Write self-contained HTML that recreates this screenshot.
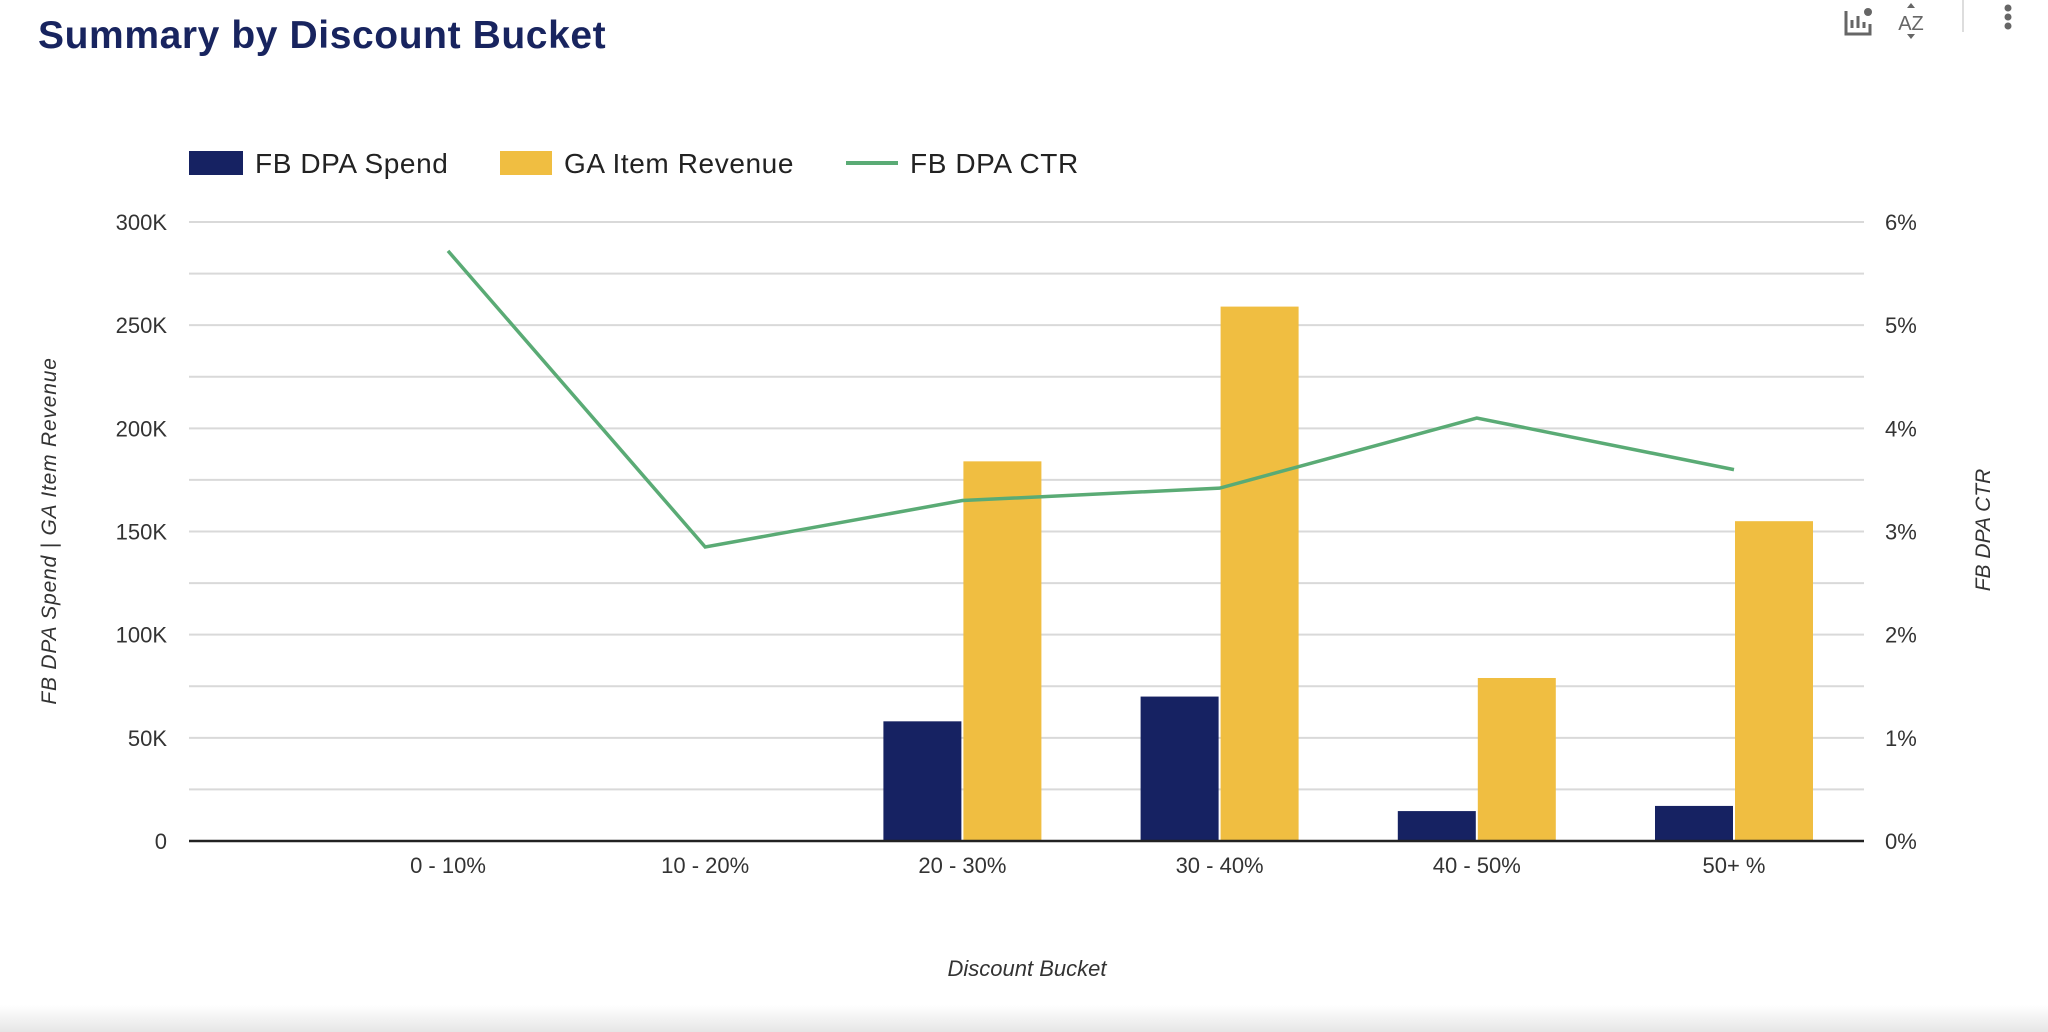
<!DOCTYPE html>
<html><head><meta charset="utf-8"><style>
body{margin:0;width:2048px;height:1032px;background:#fff;overflow:hidden;font-family:"Liberation Sans",sans-serif;position:relative}
.title{position:absolute;left:38px;top:14px;font-size:39px;font-weight:bold;color:#18245f;letter-spacing:0.6px}
.shadow{position:absolute;left:0;top:1005px;width:2048px;height:27px;background:linear-gradient(#fff,#e6e6e6)}
</style></head><body>
<div class="title">Summary by Discount Bucket</div>
<div class="shadow"></div>
<svg width="2048" height="1032" style="position:absolute;left:0;top:0" id="chart">
 <g fill="#666" stroke="#666">
  <g><path d="M1846 11 v23 h24 v-10 M1852 28 v-8 M1858 28 v-12 M1864 28 v-6" fill="none" stroke-width="3"/><circle cx="1868" cy="12" r="4" stroke="none"/></g>
  <text x="1911" y="30" font-size="20" stroke="none" text-anchor="middle">AZ</text>
  <path d="M1907 8 l4 -5 l4 5z M1907 34 l4 5 l4 -5z" stroke="none"/>
  <line x1="1963" y1="0" x2="1963" y2="32" stroke="#ddd" stroke-width="2"/>
  <g stroke="none"><circle cx="2008" cy="8" r="3.5"/><circle cx="2008" cy="17" r="3.5"/><circle cx="2008" cy="26" r="3.5"/></g>
 </g>
 <g font-size="28" fill="#222" letter-spacing="0.6">
  <g><rect x="189" y="151" width="54" height="24" fill="#162262"/><text x="255" y="173">FB DPA Spend</text></g>
  <g><rect x="500" y="151" width="52" height="24" fill="#f0be41"/><text x="564" y="173">GA Item Revenue</text></g>
  <g><line x1="846" y1="163" x2="898" y2="163" stroke="#5aab75" stroke-width="4"/><text x="910" y="173">FB DPA CTR</text></g>
 </g>
 <g id="plot"></g>
 <text x="56" y="531" font-size="21" font-style="italic" fill="#333" text-anchor="middle" letter-spacing="0.8" transform="rotate(-90 56 531)">FB DPA Spend | GA Item Revenue</text>
 <text x="1990" y="530" font-size="21" font-style="italic" fill="#333" text-anchor="middle" transform="rotate(-90 1990 530)">FB DPA CTR</text>
 <text x="1027" y="976" font-size="22" font-style="italic" fill="#333" text-anchor="middle">Discount Bucket</text>
</svg>
<script>
const categories=["0 - 10%","10 - 20%","20 - 30%","30 - 40%","40 - 50%","50+ %"];
const spend=[0,0,58000,70000,14500,17000];
const revenue=[0,0,184000,259000,79000,155000];
const ctr=[5.72,2.85,3.3,3.42,4.1,3.6];
const leftTicks=[0,50000,100000,150000,200000,250000,300000];
const leftTickLabels=["0","50K","100K","150K","200K","250K","300K"];
const rightTicks=[0,1,2,3,4,5,6];
const rightTickLabels=["0%","1%","2%","3%","4%","5%","6%"];
const L=189,R=1864,T=222,B=841;
const yL=v=>B-(v/300000)*(B-T);
const yR=v=>B-(v/6)*(B-T);
const xC=i=>448+i*257.2;
const NS="http://www.w3.org/2000/svg";
const g=document.getElementById('plot');
function mk(t,a){const e=document.createElementNS(NS,t);for(const k in a)e.setAttribute(k,a[k]);g.appendChild(e);return e;}
for(let v=0;v<=300000;v+=25000){if(v===0)continue;const e=mk('line',{x1:L,x2:R,y1:yL(v),y2:yL(v),stroke:'#d9d9d9','stroke-width':2});

}
leftTicks.forEach((v,i)=>{const t=mk('text',{x:167,y:yL(v)+8,'font-size':22,fill:'#333','text-anchor':'end'});t.textContent=leftTickLabels[i];

});
rightTicks.forEach((v,i)=>{const t=mk('text',{x:1885,y:yR(v)+8,'font-size':22,fill:'#333'});t.textContent=rightTickLabels[i];

});
const bw=78;
categories.forEach((c,i)=>{
 const x=xC(i);
 if(spend[i]>0){const b=mk('rect',{x:x-bw-1,y:yL(spend[i]),width:bw,height:B-yL(spend[i]),fill:'#162262'});
 
 }
 if(revenue[i]>0){const b=mk('rect',{x:x+1,y:yL(revenue[i]),width:bw,height:B-yL(revenue[i]),fill:'#f0be41'});
 
 }
 const t=mk('text',{x:x,y:873,'font-size':22,fill:'#333','text-anchor':'middle'});t.textContent=c;
 
 
});
const ax=mk('line',{x1:L,x2:R,y1:B,y2:B,stroke:'#222','stroke-width':2.5});


const pl=mk('polyline',{points:ctr.map((v,i)=>xC(i)+','+yR(v)).join(' '),fill:'none',stroke:'#5aab75','stroke-width':3.5});


</script>
</body></html>
